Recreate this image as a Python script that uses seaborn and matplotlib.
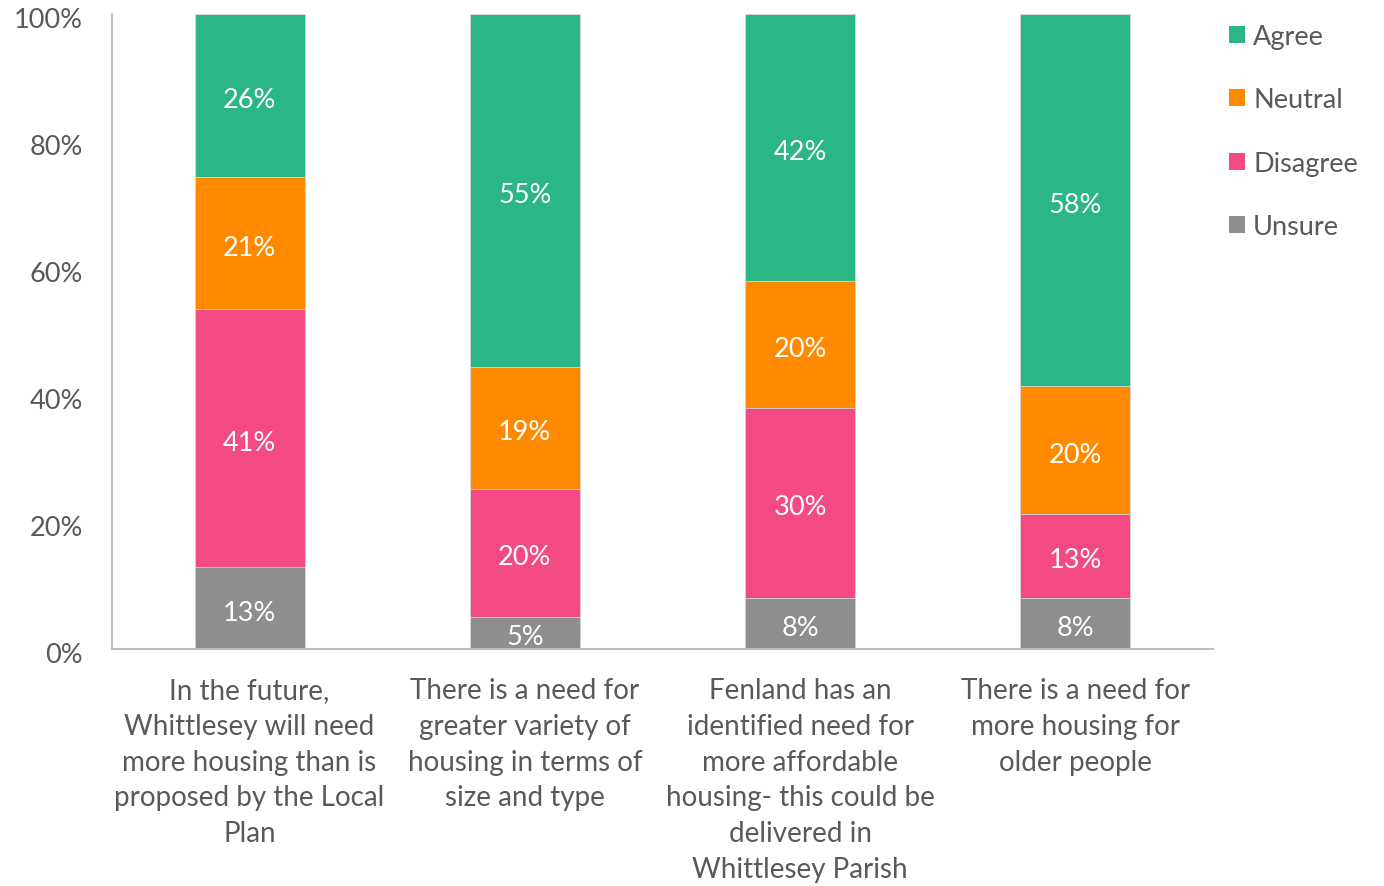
import numpy as np
import pandas as pd
import matplotlib
matplotlib.use("Agg")
import matplotlib.pyplot as plt
import matplotlib.transforms as mtransforms
import seaborn as sns
from matplotlib.patches import Patch

categories = [
    "In the future,\nWhittlesey will need\nmore housing than is\nproposed by the Local\nPlan",
    "There is a need for\ngreater variety of\nhousing in terms of\nsize and type",
    "Fenland has an\nidentified need for\nmore affordable\nhousing- this could be\ndelivered in\nWhittlesey Parish",
    "There is a need for\nmore housing for\nolder people",
]
series = ["Unsure", "Disagree", "Neutral", "Agree"]
unsure = [13, 5, 8, 8]
disagree = [41, 20, 30, 13]
neutral = [21, 19, 20, 20]
agree = [26, 55, 42, 58]
colors = {"Agree": "#2BB686", "Neutral": "#FF8A00", "Disagree": "#F44A83", "Unsure": "#8E8E8E"}
yticks = [0, 0.2, 0.4, 0.6, 0.8, 1.0]
ytick_labels = ["0%", "20%", "40%", "60%", "80%", "100%"]

sns.set_style("white")
plt.rcParams["font.family"] = ["Lato", "DejaVu Sans"]

vals = np.array([unsure, disagree, neutral, agree], dtype=float)
totals = vals.sum(axis=0)
shares = vals / totals
cum = np.cumsum(shares, axis=0)

fig = plt.figure(figsize=(13.84, 8.87), dpi=100)
ax = fig.add_axes([112 / 1384, 1 - 650 / 887, (1213 - 112) / 1384, (650 - 15) / 887])

for i in range(len(series) - 1, -1, -1):
    df = pd.DataFrame({"cat": categories, "val": cum[i]})
    sns.barplot(data=df, x="cat", y="val", color=colors[series[i]], width=0.4,
                saturation=1, ax=ax, order=categories, edgecolor="#D9D9D9", linewidth=0.6)

lbl_trans = mtransforms.offset_copy(ax.transData, fig=fig, x=0, y=-4, units="dots")
for i, s in enumerate(series):
    for j in range(len(categories)):
        bottom = cum[i - 1][j] if i > 0 else 0
        mid = bottom + shares[i][j] / 2
        ax.text(j, mid, f"{int(vals[i][j])}%", ha="center", va="center",
                color="white", fontsize=19.5, transform=lbl_trans)

ax.set_xlim(-0.5, 3.5)
ax.set_ylim(0, 1)
ax.set_yticks(yticks)
ax.set_yticklabels(ytick_labels)
ax.set_xlabel("")
ax.set_ylabel("")
ax.tick_params(axis="y", length=0, pad=21, labelsize=19.5, labelcolor="#595959")
ax.tick_params(axis="x", length=0, pad=20, labelsize=20, labelcolor="#595959")
yoff = mtransforms.ScaledTranslation(0, -3 / 100, fig.dpi_scale_trans)
for lbl in ax.get_yticklabels():
    lbl.set_transform(lbl.get_transform() + yoff)
for lbl in ax.get_xticklabels():
    lbl.set_linespacing(1.47)
for side in ["top", "right"]:
    ax.spines[side].set_visible(False)
for side in ["left", "bottom"]:
    ax.spines[side].set_color("#BFBFBF")
    ax.spines[side].set_linewidth(1.5)

handles = [Patch(facecolor=colors[s], edgecolor="none") for s in ["Agree", "Neutral", "Disagree", "Unsure"]]
leg = fig.legend(handles, ["Agree", "Neutral", "Disagree", "Unsure"],
                 loc="upper left", bbox_to_anchor=(1218 / 1384, 1 - 14 / 887),
                 frameon=False, fontsize=19.5, handlelength=0.6, handleheight=0.6,
                 handletextpad=0.3, labelspacing=1.42, borderaxespad=0)
for t in leg.get_texts():
    t.set_color("#595959")

fig.savefig("out.png", dpi=100)
